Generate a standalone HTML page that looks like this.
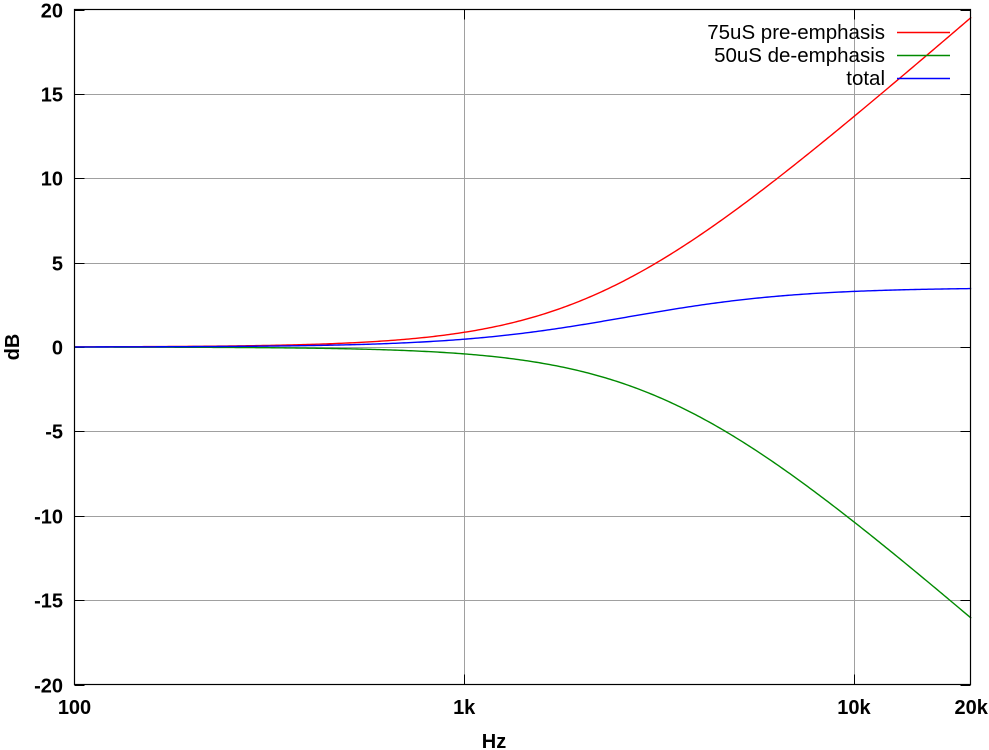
<!DOCTYPE html>
<html><head><meta charset="utf-8"><style>
html,body{margin:0;padding:0;background:#fff;}
svg{display:block;font-family:"Liberation Sans",Arial,sans-serif;}
</style></head><body>
<svg id="s" width="989" height="750" xmlns="http://www.w3.org/2000/svg">
<g id="grid" stroke="#a0a0a0" stroke-width="1"></g>
<g id="ticks" stroke="#000" stroke-width="1"></g>
<g id="lbl" font-size="20" font-weight="bold" fill="#000"></g>
<path id="pre" fill="none" stroke="#ff0000" stroke-width="1.4"/>
<path id="de" fill="none" stroke="#008a00" stroke-width="1.4"/>
<path id="tot" fill="none" stroke="#0000ff" stroke-width="1.4"/>
<rect x="74.5" y="9.5" width="896" height="675" fill="none" stroke="#000" stroke-width="1.2"/>
<g font-size="20.5" fill="#000" text-anchor="end">
<text x="885" y="39">75uS pre-emphasis</text>
<text x="885" y="62">50uS de-emphasis</text>
<text x="885" y="85">total</text>
</g>
<line x1="897" y1="32.5" x2="950" y2="32.5" stroke="#ff0000" stroke-width="1.4"/>
<line x1="897" y1="55.5" x2="950" y2="55.5" stroke="#008a00" stroke-width="1.4"/>
<line x1="897" y1="78.5" x2="950" y2="78.5" stroke="#0000ff" stroke-width="1.4"/>
<text x="494" y="748" font-size="20" font-weight="bold" text-anchor="middle">Hz</text>
<text transform="translate(19,347) rotate(-90)" font-size="20" font-weight="bold" text-anchor="middle">dB</text>
</svg>
<script>
var L=74.5,R=970.5,T=9.5,B=684.5,D=389.7;
function X(f){return L+(Math.log10(f)-2)*D;}
function Y(d){return 347-d*16.875;}
var g=document.getElementById('grid'),tk=document.getElementById('ticks'),lb=document.getElementById('lbl');
var NS="http://www.w3.org/2000/svg";
function el(p,n,a,t){var e=document.createElementNS(NS,n);for(var k in a)e.setAttribute(k,a[k]);if(t)e.textContent=t;p.appendChild(e);return e;}
for(var d=-20;d<=20;d+=5){var y=Math.round(Y(d))+0.5;
 if(d>-20&&d<20)el(g,'line',{x1:L,y1:y,x2:R,y2:y});
 el(tk,'line',{x1:L,y1:y,x2:L+10,y2:y});el(tk,'line',{x1:R-10,y1:y,x2:R,y2:y});
 el(lb,'text',{x:63,y:y+7,'text-anchor':'end'},String(d));}
[[1000,'1k'],[10000,'10k']].forEach(function(v){var x=Math.round(X(v[0]))+0.5;
 el(g,'line',{x1:x,y1:T,x2:x,y2:B});el(tk,'line',{x1:x,y1:B-10,x2:x,y2:B});el(tk,'line',{x1:x,y1:T,x2:x,y2:T+10});});
[[100,'100'],[1000,'1k'],[10000,'10k'],[20000,'20k']].forEach(function(v){
 el(lb,'text',{x:X(v[0]),y:714,'text-anchor':'middle'},v[1]);});
var p1='',p2='',p3='';
for(var i=0;i<=400;i++){var f=100*Math.pow(200,i/400),w=2*Math.PI*f;
 var a=10*Math.log10(1+Math.pow(w*75e-6,2)),b=-10*Math.log10(1+Math.pow(w*50e-6,2));
 var x=X(f).toFixed(2),c=i?'L':'M';
 p1+=c+x+','+Y(a).toFixed(2);p2+=c+x+','+Y(b).toFixed(2);p3+=c+x+','+Y(a+b).toFixed(2);}
document.getElementById('pre').setAttribute('d',p1);
document.getElementById('de').setAttribute('d',p2);
document.getElementById('tot').setAttribute('d',p3);
</script>
</body></html>
